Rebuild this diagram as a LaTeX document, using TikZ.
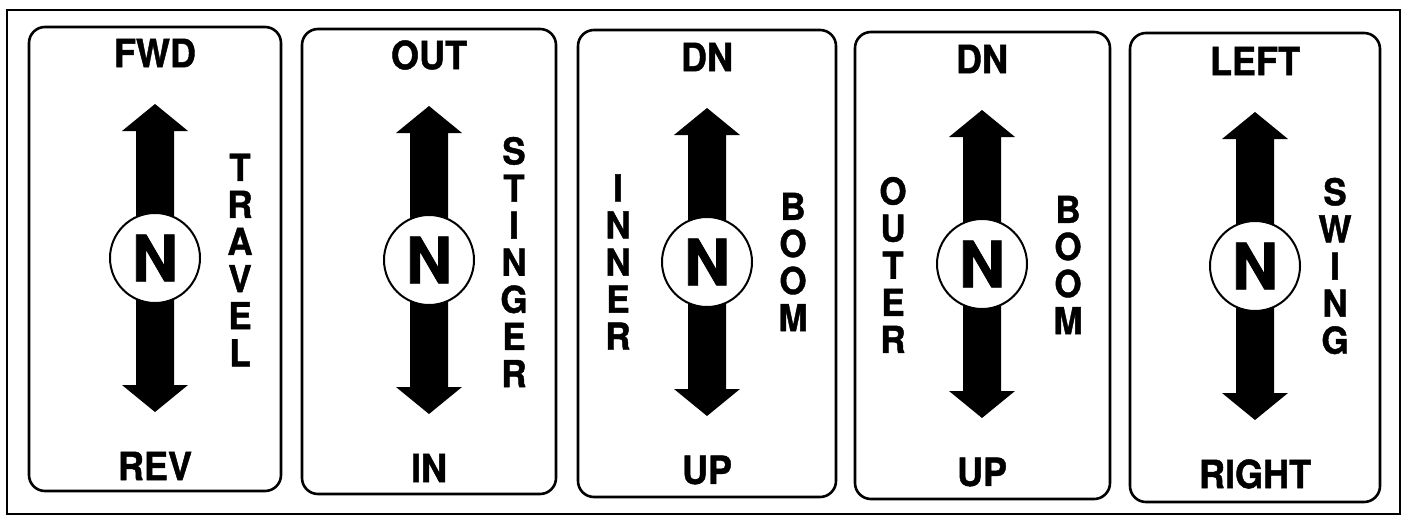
\documentclass[tikz,border=0pt]{standalone}
\usepackage{fontspec}
\setmainfont{TeX Gyre Heros}[BoldFeatures={FakeBold=1.2}]
\begin{document}
\begin{tikzpicture}[x=1pt,y=-1pt,
  panel/.style={draw,line width=2.6pt,rounded corners=16pt},
  hub/.style={circle,draw,line width=2pt,fill=white,minimum size=90pt,inner sep=0pt,
    font=\fontsize{64}{64}\selectfont\bfseries},
  lbl/.style={font=\fontsize{36}{36}\selectfont\bfseries,inner sep=0pt,yscale=1.08},
  vlbl/.style={font=\fontsize{35}{35}\selectfont\bfseries,align=center,inner sep=0pt,yscale=1.06}]
\useasboundingbox (0,0) rectangle (1410,522);
\draw[line width=2.6pt] (7,10) rectangle (1400,514);
\newcommand{\darrow}[2]{%
  \fill (#1,#2) -- ++(33,27) -- ++(-14,0) -- ++(0,254) -- ++(14,0) -- ++(-33,27)
    -- ++(-33,-27) -- ++(14,0) -- ++(0,-254) -- ++(-14,0) -- cycle;}
% panels
\draw[panel] (29,27) rectangle (281,491);
\draw[panel] (302,29) rectangle (556,494);
\draw[panel] (578,30) rectangle (836,497);
\draw[panel] (855,32) rectangle (1110,499);
\draw[panel] (1130,33) rectangle (1380,502);
% arrows
\darrow{155}{104}
\darrow{429}{106}
\darrow{707}{108}
\darrow{982}{110}
\darrow{1255}{112}
% hubs
\node[hub] (n1) at (155,258) {N};
\node[hub] (n2) at (429,260) {N};
\node[hub] (n3) at (707,262) {N};
\node[hub] (n4) at (982,264) {N};
\node[hub] (n5) at (1255,266) {N};
% top / bottom labels
\node[lbl] (t1) at (155,53) {FWD};
\node[lbl] (b1) at (155,466) {REV};
\node[lbl] (t2) at (429,55) {OUT};
\node[lbl] (b2) at (429,468) {IN};
\node[lbl] (t3) at (707,57) {DN};
\node[lbl] (b3) at (707,470) {UP};
\node[lbl] (t4) at (982,59) {DN};
\node[lbl] (b4) at (982,472) {UP};
\node[lbl] (t5) at (1255,61) {LEFT};
\node[lbl] (b5) at (1255,474) {RIGHT};
% vertical labels
\node[vlbl] (v1) at (240,260) {T\\R\\A\\V\\E\\L};
\node[vlbl] (v2) at (514,262) {S\\T\\I\\N\\G\\E\\R};
\node[vlbl] (v3a) at (618,262) {I\\N\\N\\E\\R};
\node[vlbl] (v3b) at (793,262) {B\\O\\O\\M};
\node[vlbl] (v4a) at (893,265) {O\\U\\T\\E\\R};
\node[vlbl] (v4b) at (1068,265) {B\\O\\O\\M};
\node[vlbl] (v5) at (1335,266) {S\\W\\I\\N\\G};
\end{tikzpicture}
\end{document}
